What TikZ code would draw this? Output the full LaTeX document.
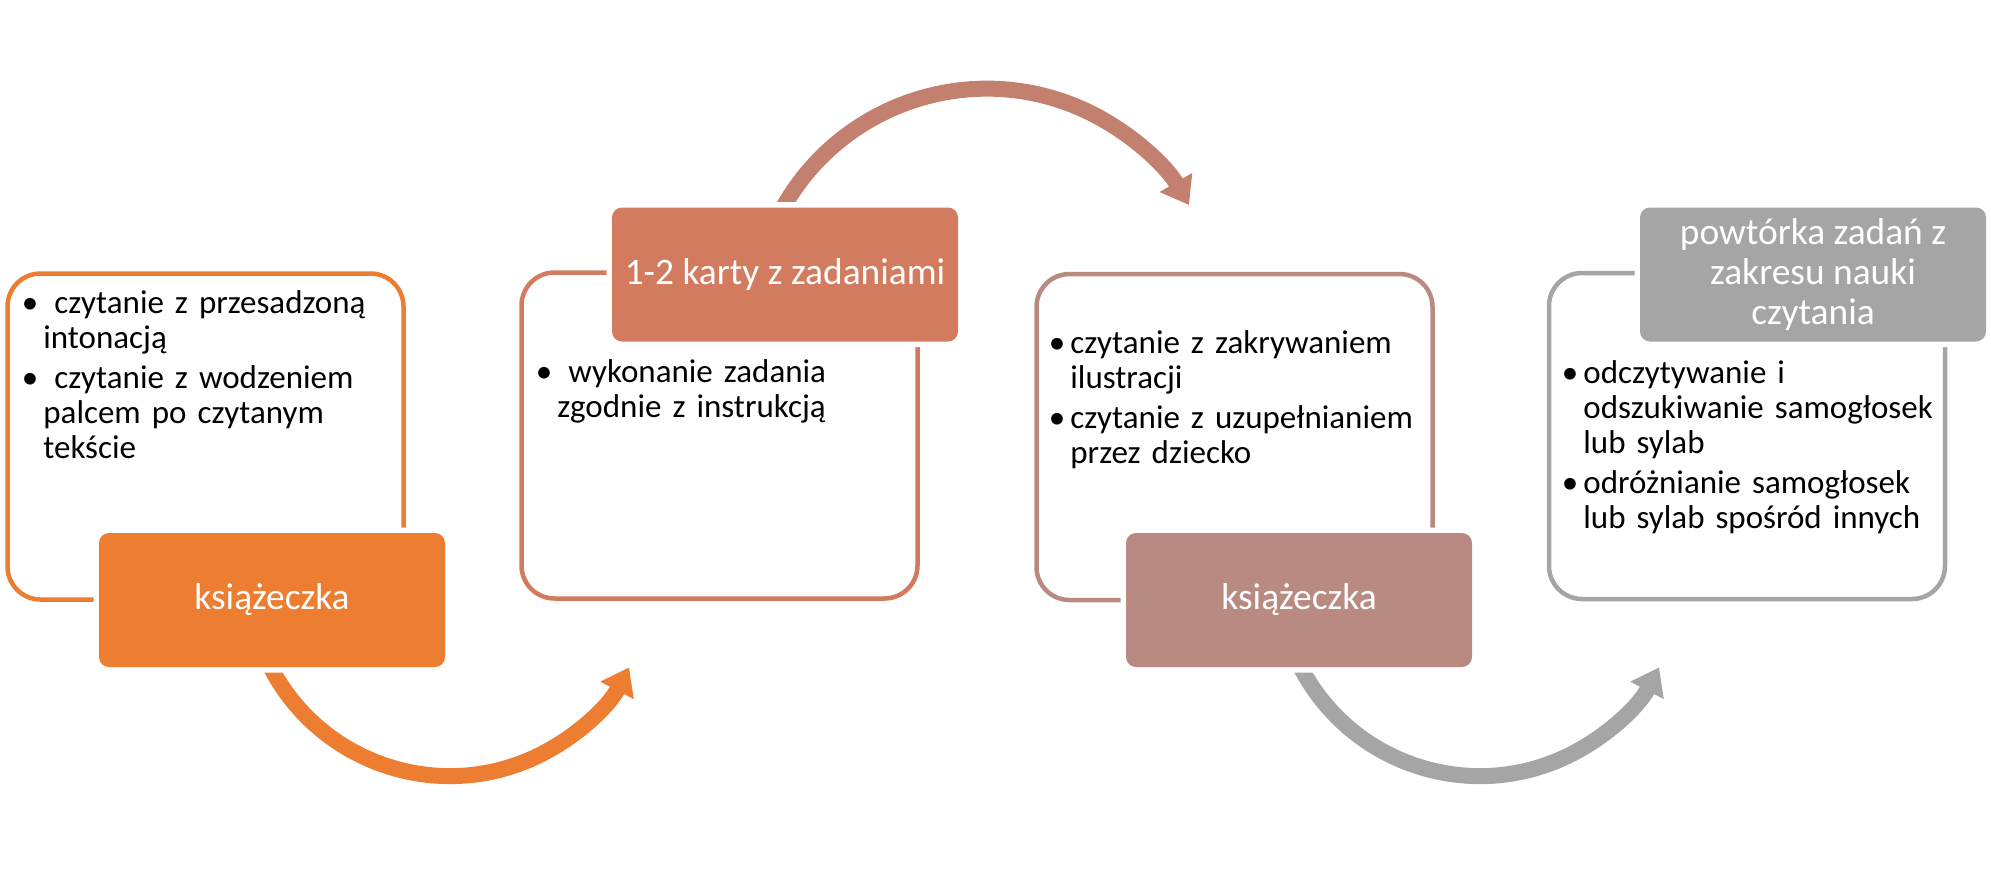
\documentclass[tikz,border=0pt]{standalone}
\usepackage{fontspec}
\setmainfont{Carlito}
\usetikzlibrary{arrows.meta}

\definecolor{pomar}{HTML}{ED7D31}
\definecolor{ceglany}{HTML}{D27B5E}
\definecolor{rozowy}{HTML}{B98A82}
\definecolor{szary}{HTML}{A5A5A5}
\definecolor{luk}{HTML}{C4806F}
\newcommand{\pkt}[1]{\noindent\llap{\textbullet\hspace{2.5pt}}#1\par\vspace{2.5pt}}

\begin{document}
\begin{tikzpicture}[x=0.5pt,y=-0.5pt,
    ramka/.style={draw=#1,line width=2.25pt,rounded corners=16.5pt,fill=white,minimum width=198pt,minimum height=163pt},
    etykieta/.style={fill=#1,preaction={draw=white,line width=5.5pt},rounded corners=5pt,minimum width=173pt,minimum height=67pt,text=white,align=center,font=\fontsize{18.7}{20}\selectfont},
    opis/.style={anchor=base west,inner sep=0pt,text width=180pt,align=left,font=\fontsize{16.5}{17.5}\selectfont},
    strzalka/.style={draw=#1,line width=8pt,-{Triangle[length=13pt,width=18pt]}}]
    \useasboundingbox (0,0) rectangle (1991,873);

    \coordinate (s1) at (268,662);
    \coordinate (s2) at (779,215);
    \coordinate (s3) at (1298,662);
    \draw[strzalka=pomar] (s1) arc[start angle=154.2,end angle=27.5,radius=202];
    \draw[strzalka=luk] (s2) arc[start angle=207.4,end angle=329.8,radius=234];
    \draw[strzalka=szary] (s3) arc[start angle=154.2,end angle=27.5,radius=202];

    \node[ramka=pomar] (r1) at (205.5,436.5) {};
    \node[ramka=ceglany] (r2) at (719.5,435.5) {};
    \node[ramka=rozowy] (r3) at (1234.5,437) {};
    \node[ramka=szary] (r4) at (1747,436) {};

    \node[opis] (t1) at (43,313) {\pkt{\ czytanie z przesadzoną\\intonacją}\pkt{\ czytanie z wodzeniem\\palcem po czytanym\\tekście}};
    \node[opis] (t2) at (557,382) {\pkt{\ wykonanie zadania\\zgodnie z instrukcją}};
    \node[opis] (t3) at (1070,353) {\pkt{czytanie z zakrywaniem\\ilustracji}\pkt{czytanie z uzupełnianiem\\przez dziecko}};
    \node[opis] (t4) at (1583,383) {\pkt{odczytywanie i\\odszukiwanie samogłosek\\lub sylab}\pkt{odróżnianie samogłosek\\lub sylab spośród innych}};

    \node[etykieta=pomar] (k1) at (272,600) {książeczka};
    \node[etykieta=ceglany] (k2) at (785,274.5) {1-2 karty z zadaniami};
    \node[etykieta=rozowy] (k3) at (1299,600) {książeczka};
    \node[etykieta=szary] (k4) at (1813,274.5) {powtórka zadań z\\zakresu nauki\\czytania};
\end{tikzpicture}
\end{document}
